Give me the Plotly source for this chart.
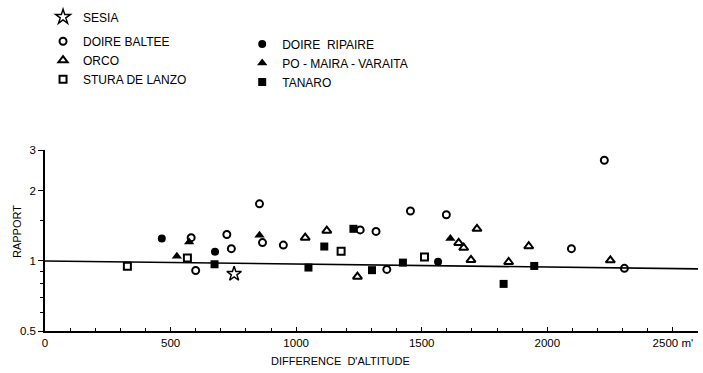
import plotly.graph_objects as go

# ---- data ----
sesia_x = [753]
sesia_y = [0.88]

doire_baltee_x = [582, 600, 724, 742, 854, 866, 949, 1255, 1318, 1361, 1455, 1598, 2096, 2227, 2307]
doire_baltee_y = [1.26, 0.91, 1.30, 1.13, 1.76, 1.20, 1.17, 1.36, 1.34, 0.92, 1.64, 1.58, 1.13, 2.71, 0.93]

orco_x = [1036, 1122, 1244, 1647, 1667, 1720, 1696, 1846, 1926, 2251]
orco_y = [1.26, 1.35, 0.856, 1.195, 1.14, 1.375, 1.01, 0.99, 1.157, 1.007]

stura_x = [328, 567, 1179, 1511]
stura_y = [0.95, 1.03, 1.10, 1.04]

doire_ripaire_x = [465, 677, 1565]
doire_ripaire_y = [1.248, 1.095, 0.993]

po_x = [525, 574, 854, 1614]
po_y = [1.047, 1.207, 1.289, 1.248]

tanaro_x = [675, 1049, 1112, 1228, 1302, 1425, 1826, 1948]
tanaro_y = [0.968, 0.937, 1.154, 1.375, 0.913, 0.984, 0.797, 0.952]

line_x = [0, 2600]
line_y = [1.0, 0.925]

x_tickvals = [0, 500, 1000, 1500, 2000, 2500]
x_ticktext = ["0", "500", "1000", "1500", "2000", "2500 m'"]
y_tickvals = [0.5, 1, 2, 3]
y_ticktext = ["0.5", "1", "2", "3"]
y_minor = [0.6, 0.7, 0.8, 0.9, 1.5]

FONT = "Liberation Sans, Arial, sans-serif"

fig = go.Figure()

fig.add_trace(go.Scatter(x=line_x, y=line_y, mode="lines",
                         line=dict(color="black", width=1.6),
                         showlegend=False, hoverinfo="skip"))

def add(name, xs, ys, symbol, size, lw, legend):
    fig.add_trace(go.Scatter(
        x=xs, y=ys, mode="markers", name=name, legend=legend,
        marker=dict(symbol=symbol, size=size, color="black",
                    line=dict(color="black", width=lw)),
    ))

add("SESIA", sesia_x, sesia_y, "star-open", 11, 1.5, "legend")
add("DOIRE BALTEE", doire_baltee_x, doire_baltee_y, "circle-open", 7, 2, "legend2")
add("ORCO", orco_x, orco_y, "triangle-up-open", 8, 2, "legend2")
add("STURA DE LANZO", stura_x, stura_y, "square-open", 7, 2, "legend2")
add("DOIRE  RIPAIRE", doire_ripaire_x, doire_ripaire_y, "circle", 8, 0, "legend3")
add("PO - MAIRA - VARAITA", po_x, po_y, "triangle-up", 9, 0, "legend3")
add("TANARO", tanaro_x, tanaro_y, "square", 8, 0, "legend3")

leg_common = dict(font=dict(family=FONT, size=12, color="black"),
                  bgcolor="rgba(0,0,0,0)", xanchor="left", yanchor="top",
                  tracegroupgap=0)

fig.update_layout(
    width=703, height=373,
    margin=dict(l=45, r=5, t=149, b=42),
    paper_bgcolor="white", plot_bgcolor="white",
    font=dict(family=FONT, size=11, color="black"),
    legend=dict(x=-0.003, y=1.805, **leg_common),
    legend2=dict(x=-0.003, y=1.672, **leg_common),
    legend3=dict(x=0.302, y=1.657, **leg_common),
    xaxis=dict(range=[0, 2600], showgrid=False, zeroline=False,
               showline=True, linecolor="black", linewidth=1.5,
               ticks="inside", ticklen=4, tickcolor="black", tickwidth=1.2,
               tickvals=x_tickvals, ticktext=x_ticktext,
               tickfont=dict(family=FONT, size=11.5),
               minor=dict(dtick=100, ticks="inside", ticklen=3,
                          tickcolor="black", tickwidth=1)),
    yaxis=dict(type="log", range=[-0.30103, 0.47712], showgrid=False,
               zeroline=False, showline=True, linecolor="black", linewidth=1.5,
               ticks="outside", ticklen=5, tickcolor="black", tickwidth=1.2,
               tickvals=y_tickvals, ticktext=y_ticktext,
               tickfont=dict(family=FONT, size=11.5),
               minor=dict(tickvals=y_minor, ticks="outside", ticklen=3,
                          tickcolor="black", tickwidth=1)),
    annotations=[
        dict(text="RAPPORT", xref="paper", yref="paper",
             x=-0.042, y=0.55, textangle=-90, showarrow=False,
             font=dict(family=FONT, size=11), xanchor="center", yanchor="middle"),
        dict(text="DIFFERENCE  D'ALTITUDE", xref="paper", yref="paper",
             x=0.452, y=-0.165, showarrow=False,
             font=dict(family=FONT, size=11), xanchor="center", yanchor="middle"),
    ],
)

fig.write_html("out.html", config={"displayModeBar": False},
               post_script="document.body.style.margin='0';")
